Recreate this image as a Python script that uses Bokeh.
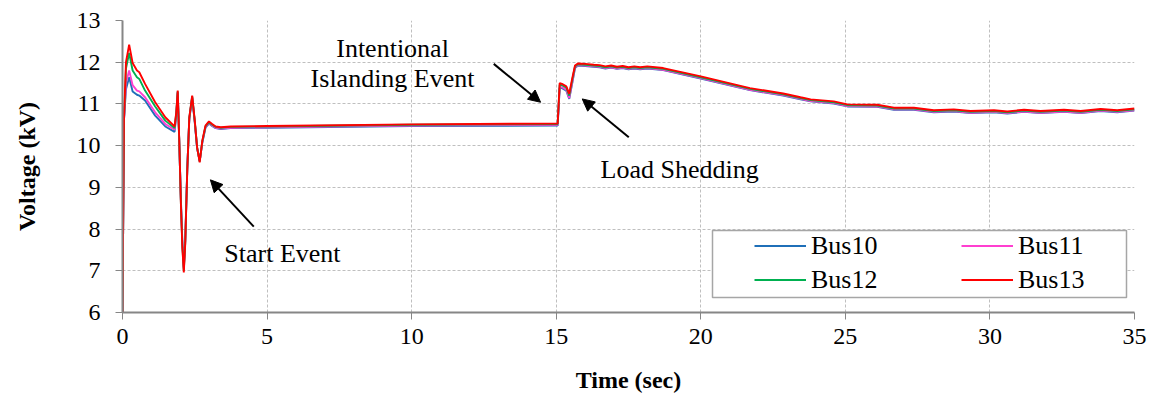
from bokeh.plotting import figure
from bokeh.models import (Range1d, FixedTicker, Legend, LegendItem, Label, Arrow,
                          NormalHead, ColumnDataSource, BoxAnnotation)
from bokeh.embed import file_html
from bokeh.resources import INLINE

# ---------------- data ----------------
time_s = [0.0, 0.05, 0.12, 0.23, 0.35, 0.5, 0.58, 0.78, 1.13, 1.48, 1.8, 1.86, 1.91,
          1.96, 2.02, 2.07, 2.12, 2.17, 2.24, 2.31, 2.41, 2.5, 2.58, 2.67, 2.76, 2.87,
          2.99, 3.1, 3.22, 3.4, 3.74, 5.0, 10.0, 15.05, 15.12, 15.2, 15.35, 15.45,
          15.55, 15.65, 15.75, 16.0, 16.3, 16.5, 16.7, 16.9, 17.1, 17.3, 17.5, 17.7,
          17.9, 18.15, 18.7, 20.0, 21.7, 22.85, 23.45, 23.8, 24.6, 25.07, 26.1, 26.68,
          27.37, 28.06, 28.75, 29.33, 30.14, 30.6, 31.18, 31.75, 32.56, 33.14, 33.83,
          34.4, 35.0]

bus13 = [6.0, 10.6, 12.0, 12.42, 11.98, 11.8, 11.76, 11.48, 11.04, 10.68, 10.46, 10.8, 11.32,
         10.2, 8.6, 7.56, 6.96, 7.65, 9.4, 10.68, 11.2, 10.6, 9.96, 9.6, 10.12, 10.48,
         10.58, 10.52, 10.46, 10.44, 10.46, 10.47, 10.51, 10.53, 11.5, 11.48, 11.42, 11.24,
         11.6, 11.92, 11.97, 11.96, 11.94, 11.93, 11.9, 11.92, 11.89, 11.91, 11.88, 11.9,
         11.88, 11.9, 11.86, 11.66, 11.38, 11.25, 11.16, 11.11, 11.06, 10.99, 10.98, 10.91,
         10.91, 10.85, 10.87, 10.83, 10.85, 10.82, 10.86, 10.83, 10.86, 10.83, 10.88,
         10.85, 10.89]

bus12 = [6.0, 10.6, 11.85, 12.22, 11.8, 11.64, 11.6, 11.32, 10.94, 10.6, 10.42, 10.78, 11.3,
         10.18, 8.62, 7.6, 7.0, 7.68, 9.42, 10.66, 11.18, 10.58, 9.96, 9.62, 10.1, 10.46,
         10.56, 10.5, 10.45, 10.43, 10.45, 10.46, 10.5, 10.52, 11.46, 11.45, 11.39, 11.2,
         11.56, 11.9, 11.95, 11.94, 11.92, 11.91, 11.88, 11.9, 11.87, 11.89, 11.86, 11.88,
         11.86, 11.88, 11.84, 11.64, 11.36, 11.23, 11.14, 11.09, 11.04, 10.97, 10.96, 10.89,
         10.89, 10.83, 10.85, 10.81, 10.83, 10.8, 10.84, 10.81, 10.84, 10.81, 10.86,
         10.83, 10.87]

bus11 = [6.0, 10.6, 11.5, 11.8, 11.45, 11.32, 11.3, 11.16, 10.8, 10.52, 10.38, 10.74, 11.28,
         10.16, 8.66, 7.66, 7.04, 7.72, 9.44, 10.64, 11.16, 10.56, 9.95, 9.63, 10.08, 10.44,
         10.54, 10.48, 10.43, 10.41, 10.43, 10.44, 10.48, 10.5, 11.4, 11.4, 11.34, 11.14,
         11.5, 11.87, 11.93, 11.92, 11.9, 11.89, 11.86, 11.88, 11.85, 11.87, 11.84, 11.86,
         11.84, 11.86, 11.82, 11.62, 11.34, 11.21, 11.12, 11.07, 11.02, 10.95, 10.94, 10.87,
         10.87, 10.81, 10.83, 10.79, 10.81, 10.78, 10.82, 10.79, 10.82, 10.79, 10.84,
         10.81, 10.85]

bus10 = [6.0, 10.6, 11.35, 11.64, 11.3, 11.22, 11.2, 11.08, 10.72, 10.46, 10.33, 10.72, 11.27,
         10.15, 8.7, 7.7, 7.08, 7.75, 9.45, 10.63, 11.15, 10.55, 9.94, 9.63, 10.07, 10.43,
         10.53, 10.47, 10.42, 10.4, 10.42, 10.43, 10.47, 10.48, 11.38, 11.38, 11.32, 11.12,
         11.48, 11.86, 11.92, 11.91, 11.89, 11.88, 11.85, 11.87, 11.84, 11.86, 11.83, 11.85,
         11.83, 11.85, 11.81, 11.61, 11.33, 11.2, 11.11, 11.06, 11.01, 10.94, 10.93, 10.86,
         10.86, 10.8, 10.82, 10.78, 10.8, 10.77, 10.81, 10.78, 10.81, 10.78, 10.83,
         10.8, 10.84]

series_names = ["Bus10", "Bus11", "Bus12", "Bus13"]
x_ticks = [0, 5, 10, 15, 20, 25, 30, 35]
y_ticks = [6, 7, 8, 9, 10, 11, 12, 13]

# ---------------- styling ----------------
FONT = "Liberation Serif"
colors = ["#1f6fb8", "#ff3fd0", "#00b050", "#ff0000"]

p = figure(width=1158, height=407, output_backend="svg", toolbar_location=None,
           x_range=Range1d(0, 35), y_range=Range1d(6, 13),
           min_border_left=122, min_border_right=24, min_border_top=20,
           min_border_bottom=95)
p.outline_line_color = None
p.background_fill_color = "white"

p.xaxis.ticker = FixedTicker(ticks=x_ticks)
p.yaxis.ticker = FixedTicker(ticks=y_ticks)
for ax in (p.xaxis, p.yaxis):
    ax.axis_line_color = "#868686"
    ax.axis_line_width = 2
    ax.major_tick_line_color = "#868686"
    ax.major_tick_line_width = 1
    ax.major_tick_out = 7
    ax.major_tick_in = 0
    ax.minor_tick_line_color = None
    ax.major_label_text_font = FONT
    ax.major_label_text_font_size = "24px"
    ax.major_label_text_color = "black"
    ax.axis_label_text_font = FONT
    ax.axis_label_text_font_size = "24px"
    ax.axis_label_text_font_style = "bold"
    ax.axis_label_text_color = "black"
p.xaxis.axis_label = "Time (sec)"
p.yaxis.axis_label = "Voltage (kV)"
p.xaxis.major_label_standoff = 9
p.xaxis.axis_label_standoff = 20
p.yaxis.major_label_standoff = 15
p.yaxis.axis_label_standoff = 34

p.grid.grid_line_color = "#bfbfbf"
p.grid.grid_line_dash = "3 2"
p.grid.grid_line_width = 1

src = ColumnDataSource(dict(t=time_s, b10=bus10, b11=bus11, b12=bus12, b13=bus13))
renderers = []
for col, c in zip(["b10", "b11", "b12", "b13"], colors):
    r = p.line("t", col, source=src, line_color=c, line_width=1.9)
    renderers.append(r)

# legend frame (screen units, measured from the frame's bottom-left)
p.add_layout(BoxAnnotation(left=590, right=1004, bottom=15, top=82,
                           left_units="screen", right_units="screen",
                           bottom_units="screen", top_units="screen",
                           fill_color="white", fill_alpha=1.0,
                           line_color="#a6a6a6", line_width=1.5, line_alpha=1.0))

leg = Legend(items=[LegendItem(label=n, renderers=[r]) for n, r in zip(series_names, renderers)],
             location=(632, 17.5), orientation="horizontal", ncols=2,
             padding=0, spacing=4, margin=0,
             glyph_width=52, glyph_height=27, label_standoff=5,
             label_width=146, label_height=27,
             label_text_font=FONT, label_text_font_size="26px", label_text_color="black",
             border_line_alpha=0, background_fill_alpha=0)
p.add_layout(leg, "center")

# annotations
def add_label(x, y, text):
    p.add_layout(Label(x=x, y=y, text=text, text_font=FONT, text_font_size="26px",
                       text_align="center", text_baseline="alphabetic", text_color="black"))

add_label(9.34, 12.32, "Intentional")
add_label(9.34, 11.60, "Islanding Event")
add_label(19.27, 9.44, "Load Shedding")
add_label(5.53, 7.42, "Start Event")

def add_arrow(x0, y0, x1, y1):
    p.add_layout(Arrow(end=NormalHead(size=12, fill_color="black", line_color="black"),
                       x_start=x0, y_start=y0, x_end=x1, y_end=y1,
                       line_color="black", line_width=2))

add_arrow(12.84, 11.96, 14.46, 11.04)
add_arrow(17.51, 10.2, 15.9, 11.12)
add_arrow(4.54, 8.06, 3.04, 9.18)

open("out.html", "w").write(file_html(p, INLINE))
